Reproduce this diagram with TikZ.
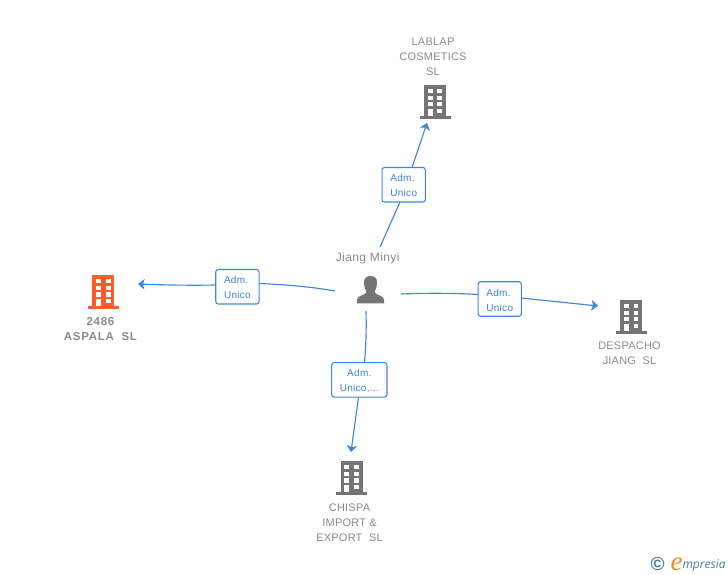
\documentclass[tikz,border=0pt]{standalone}
\usepackage{fontspec}
\setmainfont{Liberation Sans}
\newfontfamily\lab[LetterSpace=2]{Liberation Sans}
\newfontfamily\labp[LetterSpace=3.5]{Liberation Sans}
\newfontfamily\labb[LetterSpace=6]{Liberation Sans}
\newfontfamily\edgef[LetterSpace=3]{Liberation Sans}
\newfontfamily\logof{Liberation Serif}
\newfontfamily\logos{Open Sans}
\usetikzlibrary{arrows.meta}
\definecolor{linkblue}{HTML}{4285E0}
\definecolor{boxtext}{HTML}{3F80DE}
\definecolor{txtgray}{HTML}{8A8A8A}
\definecolor{icongray}{HTML}{757575}
\definecolor{iconred}{HTML}{FF5B2E}
\definecolor{logoteal}{HTML}{3F7F96}
\definecolor{logoorange}{HTML}{F08A1D}
\newcommand\nudge{\rule{0pt}{9.2pt}}
\tikzset{
  anchorpt/.style={inner sep=0pt,minimum size=0pt,outer sep=0pt},
  namelabel/.style={text=txtgray,align=center,inner sep=0pt,font=\fontsize{11}{15}\selectfont\lab},
  personlabel/.style={text=txtgray,align=center,inner sep=0pt,font=\fontsize{12}{15}\selectfont\labp},
  boldlabel/.style={text=txtgray,align=center,inner sep=0pt,font=\fontsize{11.5}{15}\selectfont\labb\bfseries},
  rolebox/.style={draw=linkblue,line width=1.1pt,fill=white,rounded corners=2.5pt,text=boxtext,
    inner sep=0pt,outer sep=0pt,minimum width=#1,minimum height=34.5pt,font=\fontsize{10}{15}\selectfont\edgef},
  link/.style={draw=linkblue,line width=1.15pt},
  linkarrow/.style={link,-{Stealth[length=6.5pt,width=10.5pt,inset=1.5pt]}},
  pics/bldg/.style={code={
    \fill[#1] (-11,0) rectangle (11,32);
    \fill[#1] (-15.5,31) rectangle (15.5,34);
    \foreach \cx in {-7.3,2.4}{
      \foreach \ry in {4.3,11,17.4}{
        \fill[white] (\cx,\ry) rectangle ++(4.8,4.1);
      }
    }
    \fill[white] (2.4,24) rectangle ++(4.8,4.1);
    \fill[white] (-7.3,24) rectangle ++(4.8,7);
  }}
}
\begin{document}
\begin{tikzpicture}[x=1pt,y=-1pt]
\useasboundingbox (0,0) rectangle (728,575);

% icons
\node[anchorpt] (lablap) at (435,85) {};
\node[anchorpt] (aspala) at (103.3,275) {};
\node[anchorpt] (despacho) at (631.2,299.5) {};
\node[anchorpt] (chispa) at (351.7,461) {};
\pic at (lablap) {bldg=icongray};
\pic at (aspala) {bldg=iconred};
\pic at (despacho) {bldg=icongray};
\pic at (chispa) {bldg=icongray};

\node[anchorpt] (person) at (370.5,290) {};
\fill[icongray] (364,282) .. controls (364,278) and (367,276) .. (370.5,276)
  .. controls (374,276) and (377,278) .. (377,282)
  .. controls (377,287) and (375.5,290) .. (374.5,292)
  .. controls (375,295) and (384,295.5) .. (384,299.5)
  -- (384,303.3) -- (357,303.3) -- (357,299.5)
  .. controls (357,295.5) and (366,295) .. (366.5,292)
  .. controls (365.5,290) and (364,287) .. (364,282) -- cycle;

% labels
\node[namelabel] (lablaptext) at (433,56.7) {LABLAP\\COSMETICS\\SL};
\node[boldlabel] (aspalatext) at (100.5,328.7) {2486\\ASPALA\ \ SL};
\node[namelabel] (despachotext) at (629.5,353.2) {DESPACHO\\JIANG\ \ SL};
\node[namelabel] (chispatext) at (349.5,522.7) {CHISPA\\IMPORT \&\\EXPORT\ \ SL};
\node[personlabel] (personname) at (367.7,258) {Jiang Minyi};

% role boxes
\node[rolebox=43.3pt,align=left] (boxtop) at (403.7,184.7) {\nudge Adm.\\Unico};
\node[rolebox=43.3pt,align=left] (boxleft) at (237.4,286.7) {\nudge Adm.\\Unico};
\node[rolebox=43.3pt,align=left] (boxright) at (499.7,299) {\nudge Adm.\\Unico};
\node[rolebox=55.3pt,align=center] (boxbottom) at (359.3,379.8) {\nudge Adm.\\Unico,...};

% free connector ends
\coordinate (ptop) at (380,247);
\coordinate (pleft) at (335,291);
\coordinate (pright) at (401,294);
\coordinate (pbottom) at (366,311);
\coordinate (tiptop) at (427,123);
\coordinate (tipleft) at (138,284);
\coordinate (tipright) at (598,306);
\coordinate (tipbottom) at (351,452);

% connectors
\draw[link] (ptop) -- (boxtop.south -| 400,0);
\draw[linkarrow] (boxtop.north -| 412,0) -- (tiptop);
\draw[link] (pleft) .. controls (313,287) and (285,284.5) .. (boxleft.east |- 0,283.5);
\draw[linkarrow] (boxleft.west |- 0,285) .. controls (190,285.5) and (165,285) .. (tipleft);
\draw[link] (pright) .. controls (425,293) and (455,293) .. (boxright.west |- 0,294.5);
\draw[linkarrow] (boxright.east |- 0,298) -- (tipright);
\draw[link] (pbottom) .. controls (366.5,330) and (366,345) .. (boxbottom.north -| 364.5,0);
\draw[linkarrow] (boxbottom.south -| 358.5,0) -- (tipbottom);

% logo
\node[anchorpt,text=logoteal,font=\fontsize{19}{19}\selectfont\bfseries] (logoc) at (657.5,563.5) {©};
\node[anchorpt,anchor=base west,text=logoorange,font=\fontsize{27}{27}\selectfont\logof\itshape] (logoe) at (670.5,570) {e};
\node[anchorpt,anchor=base west,text=logoteal,font=\fontsize{12}{14}\selectfont\logos\itshape] (logot) at (682.5,568) {mpresia};
\end{tikzpicture}
\end{document}
